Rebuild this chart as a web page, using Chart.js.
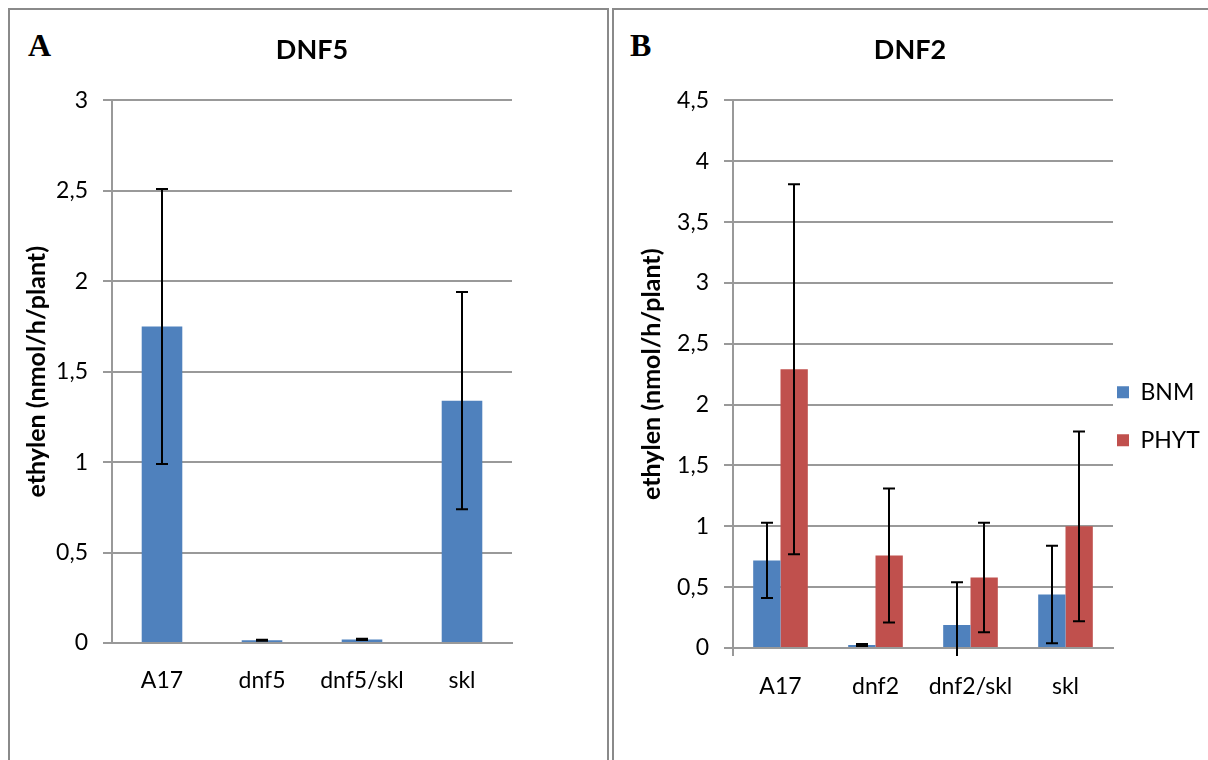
<!DOCTYPE html>
<html>
<head>
<meta charset="utf-8">
<script src="https://cdn.jsdelivr.net/npm/chart.js@4.4.1/dist/chart.umd.min.js"></script>
<style>
  html, body { margin: 0; padding: 0; background: #fff; width: 1208px; height: 760px; overflow: hidden; position: relative; }
  .panel { position: absolute; top: 8px; height: 800px; border: 2px solid #8a8a8a; box-sizing: border-box; }
  #panelA { left: 8px; width: 601px; }
  #panelB { left: 612px; width: 640px; }
  .tag { position: absolute; font: bold 32px "Liberation Serif", serif; line-height: 32px; color: #000; }
  canvas { position: absolute; top: 0; }
  #chartA { left: 8px; width: 600px; height: 760px; }
  #chartB { left: 612px; width: 596px; height: 760px; }
</style>
</head>
<body>
<div class="panel" id="panelA"></div>
<div class="panel" id="panelB"></div>
<div class="tag" style="left:28px; top:29px;">A</div>
<div class="tag" style="left:630px; top:29px;">B</div>
<canvas id="chartA" width="600" height="760"></canvas>
<canvas id="chartB" width="596" height="760"></canvas>
<script>
// Panel A: DNF5
const categoriesA = ['A17', 'dnf5', 'dnf5/skl', 'skl'];
const meanA = [1.75, 0.015, 0.02, 1.34];
const errA = [0.76, 0.003, 0.003, 0.60];
const yTicksA = ['0', '0,5', '1', '1,5', '2', '2,5', '3'];

// Panel B: DNF2
const categoriesB = ['A17', 'dnf2', 'dnf2/skl', 'skl'];
const seriesB = ['BNM', 'PHYT'];
const meanBNM = [0.72, 0.025, 0.19, 0.44];
const errBNM = [0.31, 0.008, 0.35, 0.40];
const meanPHYT = [2.29, 0.76, 0.58, 1.00];
const errPHYT = [1.52, 0.55, 0.45, 0.78];
const yTicksB = ['0', '0,5', '1', '1,5', '2', '2,5', '3', '3,5', '4', '4,5'];

const BLUE = '#4F81BD';
const RED = '#C0504D';
const GRID = '#999999';
const FONT = 'Lato';

// Draws +/- error whiskers on top of every bar, clipped to the plot area
const errorBars = {
  id: 'errorBars',
  afterDatasetsDraw(chart, args, opts) {
    const { ctx, chartArea: a } = chart;
    const yScale = chart.scales.y;
    ctx.save();
    ctx.beginPath();
    ctx.rect(a.left, a.top - 20, a.right - a.left, a.bottom - a.top + 20 + (opts.below || 0));
    ctx.clip();
    ctx.strokeStyle = '#000';
    ctx.lineWidth = 2;
    chart.data.datasets.forEach((ds, i) => {
      const meta = chart.getDatasetMeta(i);
      meta.data.forEach((bar, j) => {
        const m = ds.data[j], e = ds.errors[j];
        const yt = yScale.getPixelForValue(m + e);
        const yb = yScale.getPixelForValue(m - e);
        const x = Math.round(bar.x);
        ctx.beginPath();
        ctx.moveTo(x, yt); ctx.lineTo(x, yb);
        ctx.moveTo(x - 6, yt); ctx.lineTo(x + 6, yt);
        ctx.moveTo(x - 6, yb); ctx.lineTo(x + 6, yb);
        ctx.stroke();
      });
    });
    ctx.restore();
  }
};

// Moves the legend block next to the plot, lower than its default centring
const legendOffset = {
  id: 'legendOffset',
  afterLayout(chart, args, opts) {
    const lg = chart.legend;
    if (!lg || !opts) return;
    lg.left += opts.dx;
    lg.top += opts.dy; lg.bottom += opts.dy;
  }
};

function yAxis(max, labels, width, titlePad) {
  return {
    min: 0,
    max: max,
    ticks: {
      stepSize: 0.5,
      color: '#000',
      font: { family: FONT, size: 23 },
      padding: 15,
      callback: (v, i) => labels[i]
    },
    grid: { color: GRID, lineWidth: 2, tickLength: 9, drawTicks: true },
    border: { display: true, color: GRID, width: 2 },
    title: {
      display: true,
      text: 'ethylen (nmol/h/plant)',
      color: '#000',
      font: { family: FONT, size: 25, weight: 'bold' },
      padding: { top: titlePad, bottom: 0 }
    },
    afterFit: s => { s.width = width; }
  };
}

function titleOpts(text, full) {
  return {
    display: true,
    fullSize: full,
    text: text,
    color: '#000',
    font: { family: FONT, size: 27, weight: 'bold' },
    padding: { top: 34, bottom: 34 }
  };
}

new Chart(document.getElementById('chartA'), {
  type: 'bar',
  data: {
    labels: categoriesA,
    datasets: [{
      label: 'DNF5',
      data: meanA,
      errors: errA,
      backgroundColor: BLUE,
      borderWidth: 0,
      categoryPercentage: 0.406,
      barPercentage: 1
    }]
  },
  options: {
    responsive: false,
    animation: false,
    devicePixelRatio: 1,
    layout: { padding: { left: 0, right: 96, top: 0, bottom: 57 } },
    scales: {
      x: {
        ticks: { color: '#000', font: { family: FONT, size: 23 }, padding: 24, maxRotation: 0, autoSkip: false },
        grid: { display: false, drawTicks: false },
        border: { display: true, color: GRID, width: 2 },
        afterFit: s => { s.height = 60; }
      },
      y: yAxis(3, yTicksA, 104, 14)
    },
    plugins: {
      legend: { display: false },
      tooltip: { enabled: false },
      title: titleOpts('DNF5', false),
      errorBars: { below: 0 }
    }
  },
  plugins: [errorBars]
});

new Chart(document.getElementById('chartB'), {
  type: 'bar',
  data: {
    labels: categoriesB,
    datasets: [
      { label: seriesB[0], data: meanBNM, errors: errBNM, backgroundColor: BLUE, borderWidth: 0, categoryPercentage: 0.575, barPercentage: 1 },
      { label: seriesB[1], data: meanPHYT, errors: errPHYT, backgroundColor: RED, borderWidth: 0, categoryPercentage: 0.575, barPercentage: 1 }
    ]
  },
  options: {
    responsive: false,
    animation: false,
    devicePixelRatio: 1,
    layout: { padding: { left: 0, right: 0, top: 0, bottom: 52 } },
    scales: {
      x: {
        ticks: { color: '#000', font: { family: FONT, size: 23 }, padding: 17, maxRotation: 0, autoSkip: false },
        grid: {
          display: true,
          drawOnChartArea: false,
          drawTicks: true,
          tickLength: 8,
          lineWidth: 2,
          color: c => (c.index === 0 ? GRID : 'rgba(0,0,0,0)')
        },
        border: { display: true, color: GRID, width: 2 },
        afterFit: s => { s.height = 60; }
      },
      y: yAxis(4.5, yTicksB, 121, 25)
    },
    plugins: {
      legend: {
        display: true,
        position: 'right',
        fullSize: false,
        maxWidth: 95,
        labels: {
          boxWidth: 12,
          boxHeight: 12,
          padding: 25,
          color: '#000',
          font: { family: FONT, size: 23 }
        }
      },
      legendOffset: { dx: -21, dy: 42 },
      tooltip: { enabled: false },
      title: titleOpts('DNF2', true),
      errorBars: { below: 8 }
    }
  },
  plugins: [errorBars, legendOffset]
});
</script>
</body>
</html>
